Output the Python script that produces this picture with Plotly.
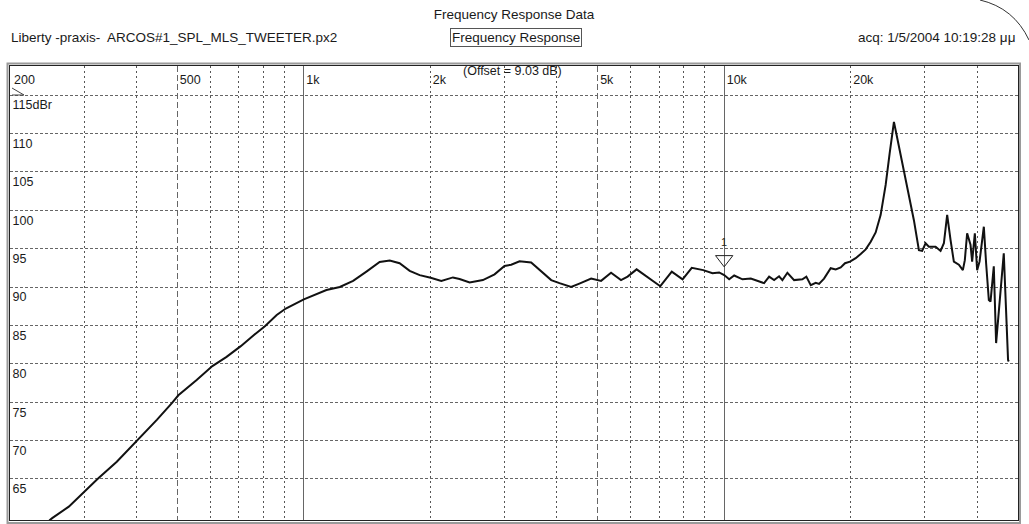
import numpy as np
import plotly.graph_objects as go

# ---- data (Hz, dB SPL) ----
freq_hz = [248, 252, 276, 300, 323, 359, 403, 447, 486, 503, 556, 606, 655, 708, 761, 808, 862, 906,
           1000, 1132, 1218, 1310, 1409, 1515, 1601, 1690, 1786, 1886, 2003, 2124, 2263, 2347, 2480,
           2667, 2843, 3002, 3114, 3260, 3474, 3602, 3702, 3877, 4057, 4324, 4524, 4825, 5095, 5381,
           5683, 5892, 6190, 6636, 7047, 7505, 7962, 8374, 8916, 9380, 9729, 10000, 10277, 10563,
           11055, 11571, 11893, 12445, 12791, 13146, 13509, 13757, 14138, 14667, 15346, 15685, 16066,
           16511, 16815, 17280, 17923, 18421, 18934, 19384, 19922, 20553, 21124, 21712, 22313, 22928,
           23565, 24218, 24754, 25342, 26046, 26770, 27507, 28270, 29055, 29580, 30140, 30687, 31838,
           32716, 33315, 33921, 34559, 35187, 36163, 36965, 37367, 37843, 38547, 38894, 39472, 39975,
           40503, 41466, 41986, 42617, 43012, 43791, 44350, 46252, 47350, 47534]
spl_db = [59.6, 59.9, 61.4, 63.35, 65.0, 67.25, 70.1, 72.7, 74.9, 75.9, 77.9, 79.7, 80.9, 82.3, 83.75,
          84.9, 86.35, 87.2, 88.4, 89.6, 90.0, 90.8, 92.0, 93.25, 93.45, 93.1, 92.1, 91.55, 91.2, 90.8,
          91.25, 91.05, 90.6, 90.9, 91.65, 92.75, 92.9, 93.35, 93.2, 92.45, 91.8, 90.9, 90.5, 90.0,
          90.45, 91.1, 90.8, 91.85, 90.9, 91.35, 92.3, 91.1, 90.1, 92.0, 91.0, 92.5, 92.2, 91.8, 91.9,
          91.55, 91.0, 91.5, 91.0, 91.1, 90.9, 90.5, 91.35, 90.9, 91.4, 90.9, 91.85, 90.9, 91.0, 91.35,
          90.25, 90.55, 90.4, 91.1, 92.45, 92.3, 92.55, 93.1, 93.3, 93.75, 94.3, 94.9, 95.9, 97.1,
          99.4, 103.3, 107.4, 111.5, 108.3, 105.0, 102.0, 98.7, 94.8, 94.7, 95.7, 95.25, 95.25, 94.7,
          95.7, 99.4, 96.1, 93.3, 92.9, 92.2, 93.5, 97.0, 95.5, 93.3, 97.0, 92.2, 93.3, 97.85, 93.1,
          88.3, 88.1, 92.7, 82.7, 94.4, 80.5, 80.3]

x_tick_vals = [200, 500, 1000, 2000, 5000, 10000, 20000]
x_tick_text = ["200", "500", "1k", "2k", "5k", "10k", "20k"]
x_dotted = [300, 400, 600, 700, 800, 900, 2000, 3000, 4000, 6000, 7000, 8000, 9000, 20000, 30000, 40000]
x_dashed = [500, 5000]
x_solid = [1000, 10000]
y_tick_vals = [65, 70, 75, 80, 85, 90, 95, 100, 105, 110, 115]
y_tick_text = ["65", "70", "75", "80", "85", "90", "95", "100", "105", "110", "115dBr"]
cursor_freq = [10000]
cursor_db = [93.6]

X_RANGE = [np.log10(200), np.log10(50000)]
Y_RANGE = [59.66, 118.78]
FONT = "Liberation Sans, Arial, sans-serif"
TXT = "#1a1a1a"

fig = go.Figure()
fig.add_trace(go.Scatter(x=freq_hz, y=spl_db, mode="lines",
                         line=dict(color="#111111", width=2), hoverinfo="skip", showlegend=False))
fig.add_trace(go.Scatter(x=cursor_freq, y=cursor_db, mode="markers+text",
                         marker=dict(symbol="triangle-down-open", size=15, color="#222222",
                                     line=dict(width=1, color="#222222")),
                         text=["1"], textposition="top center",
                         textfont=dict(family=FONT, size=11, color="#222222"),
                         hoverinfo="skip", showlegend=False))
# empty traces carrying the overlay grid axes
fig.add_trace(go.Scatter(x=[], y=[], xaxis="x2", showlegend=False, hoverinfo="skip"))
fig.add_trace(go.Scatter(x=[], y=[], xaxis="x3", showlegend=False, hoverinfo="skip"))

common_overlay = dict(type="log", range=X_RANGE, overlaying="x", showticklabels=False,
                      ticks="", showline=False, zeroline=False, showgrid=True, automargin=False)

fig.update_layout(
    width=1029, height=524,
    margin=dict(l=10, r=11, t=66, b=4, autoexpand=False),
    paper_bgcolor="white", plot_bgcolor="white",
    font=dict(family=FONT, size=12, color=TXT),
    title=dict(text="Frequency Response Data", x=0.5, xanchor="center", xref="paper",
               y=1 - 14 / 524, yref="container", yanchor="middle",
               font=dict(family=FONT, size=13.5, color=TXT)),
    xaxis=dict(type="log", range=X_RANGE, side="top", tickvals=x_tick_vals, ticktext=x_tick_text,
               ticklabelposition="inside right", ticklabelshift=2, ticklabelstandoff=6, ticks="",
               showgrid=False, zeroline=False, showline=True, mirror=True, linecolor="#222222",
               linewidth=1, automargin=False, tickfont=dict(family=FONT, size=12.5, color=TXT),
               minor=dict(tickvals=x_dotted, showgrid=True, griddash="2px,3px", gridcolor="#555555",
                          gridwidth=1, ticks="")),
    xaxis2=dict(tickvals=x_dashed, griddash="6px,3px", gridcolor="#666666", gridwidth=1, **common_overlay),
    xaxis3=dict(tickvals=x_solid, griddash="solid", gridcolor="#666666", gridwidth=1, **common_overlay),
    yaxis=dict(range=Y_RANGE, tickvals=y_tick_vals, ticktext=y_tick_text,
               ticklabelposition="inside", ticklabelshift=10, ticklabelstandoff=2, ticks="",
               showgrid=True, griddash="3px,2px", gridcolor="#666666", gridwidth=1, zeroline=False,
               showline=True, mirror=True, linecolor="#222222", linewidth=1, automargin=False,
               tickfont=dict(family=FONT, size=12.5, color=TXT)),
    hovermode=False,
)

def px_to_paper_x(px):
    return (px - 10) / 1008.0

def py_to_paper_y(py):
    return (520 - py) / 454.0

# the edge tick label that plotly hides for inside labels
fig.add_annotation(text=x_tick_text[0], xref="paper", yref="paper",
                   x=px_to_paper_x(12), y=py_to_paper_y(80), xanchor="left", yanchor="middle",
                   showarrow=False, font=dict(family=FONT, size=12.5, color=TXT))

# header texts
fig.add_annotation(text="Liberty -praxis-  ARCOS#1_SPL_MLS_TWEETER.px2", xref="paper", yref="paper",
                   x=px_to_paper_x(9), y=py_to_paper_y(38), xanchor="left", yanchor="middle",
                   showarrow=False, font=dict(family=FONT, size=13.5, color=TXT))
fig.add_annotation(text="Frequency Response", xref="paper", yref="paper",
                   x=px_to_paper_x(516), y=py_to_paper_y(38), xanchor="center", yanchor="middle",
                   showarrow=False, bordercolor="#555555", borderwidth=1, borderpad=1,
                   font=dict(family=FONT, size=13.5, color=TXT))
fig.add_annotation(text="acq: 1/5/2004 10:19:28 μμ", xref="paper", yref="paper",
                   x=px_to_paper_x(1017), y=py_to_paper_y(38), xanchor="right", yanchor="middle",
                   showarrow=False, font=dict(family=FONT, size=13.5, color=TXT))
fig.add_annotation(text="(Offset = 9.03 dB)", xref="paper", yref="paper",
                   x=px_to_paper_x(461), y=py_to_paper_y(71), xanchor="left", yanchor="middle",
                   showarrow=False, font=dict(family=FONT, size=12.5, color=TXT))

# outer frame (double border look)
fig.add_shape(type="rect", xref="paper", yref="paper",
              x0=px_to_paper_x(7.5), x1=px_to_paper_x(1020), y0=py_to_paper_y(523), y1=py_to_paper_y(63.5),
              line=dict(color="#9a9a9a", width=2), layer="above")
# reference level marker at top-left
fig.add_shape(type="path", xref="paper", yref="paper",
              path="M {:.4f},{:.4f} L {:.4f},{:.4f} L {:.4f},{:.4f}".format(
                  px_to_paper_x(12), py_to_paper_y(88), px_to_paper_x(24), py_to_paper_y(95),
                  px_to_paper_x(12), py_to_paper_y(95)),
              line=dict(color="#444444", width=1), layer="above")
# scanned page edge at top-right
fig.add_shape(type="path", xref="paper", yref="paper",
              path="M {:.4f},{:.4f} Q {:.4f},{:.4f} {:.4f},{:.4f}".format(
                  px_to_paper_x(980), py_to_paper_y(0), px_to_paper_x(1014), py_to_paper_y(8),
                  px_to_paper_x(1029), py_to_paper_y(40)),
              line=dict(color="#333333", width=1), layer="above")

fig.write_html("out.html", config={"displayModeBar": False, "staticPlot": True},
               post_script="document.body.style.margin='0px';document.body.style.padding='0px';")
